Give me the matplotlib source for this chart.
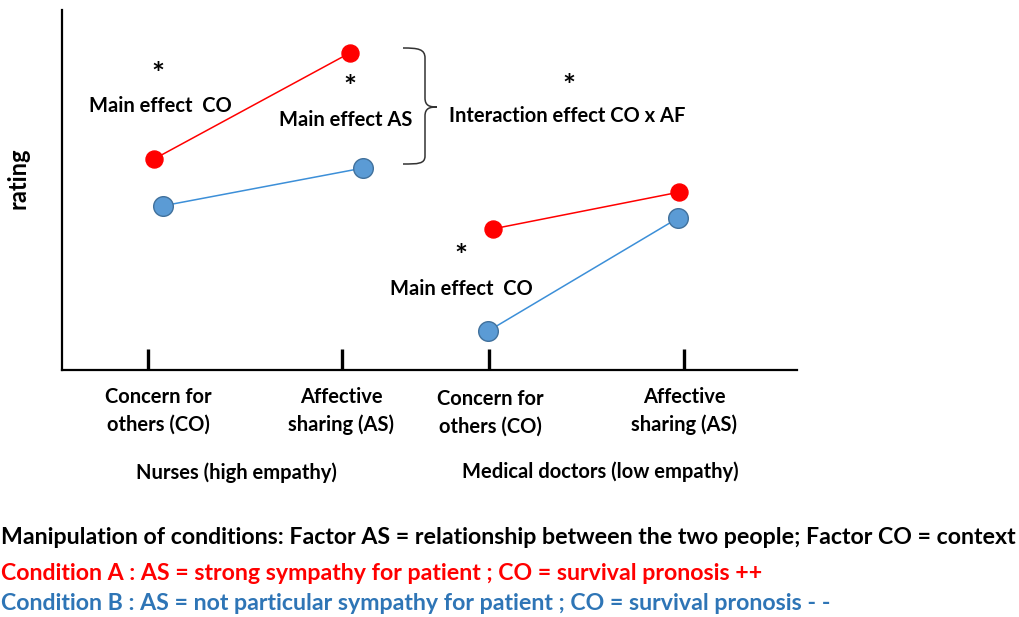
import matplotlib
matplotlib.use("Agg")
import matplotlib.pyplot as plt
from matplotlib.path import Path
from matplotlib.patches import PathPatch

# ---- data ----
conditions = ["Condition A", "Condition B"]
x_nurses = [148, 342]          # category positions (Nurses: CO, AS)
x_doctors = [489, 684]         # category positions (Doctors: CO, AS)
cond_a_x = [154, 350, 493, 679]
cond_a_rating = [5.86, 8.81, 3.92, 4.94]
cond_b_x = [163, 363, 488, 678]
cond_b_rating = [4.56, 5.61, 1.08, 4.22]
tick_labels = ["Concern for\nothers (CO)", "Affective\nsharing (AS)",
               "Concern for\nothers (CO)", "Affective\nsharing (AS)"]
group_labels = ["Nurses (high empathy)", "Medical doctors (low empathy)"]

W, H = 1019, 617
fig = plt.figure(figsize=(W / 100, H / 100), dpi=100)
plt.rcParams['font.family'] = ['Lato', 'DejaVu Sans']
FW = 'bold'
FS = 14.5

def fx(x):
    return x / W

def fy(y):
    return 1 - y / H

ax = fig.add_axes([fx(62), fy(370), (797 - 62) / W, (370 - 10) / H])
ax.set_xlim(62, 797)
ax.set_ylim(0, 10)
for s in ['top', 'right']:
    ax.spines[s].set_visible(False)
for s in ['left', 'bottom']:
    ax.spines[s].set_linewidth(1.6)
ax.set_yticks([])
ax.set_xticks(x_nurses + x_doctors)
ax.set_xticklabels([])
ax.tick_params(axis='x', direction='in', length=15, width=2.4, color='black')

red = '#FF0000'
blue = '#5B9BD5'
blue_edge = '#41719C'
for i in (0, 2):
    ax.plot(cond_a_x[i:i + 2], cond_a_rating[i:i + 2], color=red, lw=1.1, zorder=2)
    ax.plot(cond_b_x[i:i + 2], cond_b_rating[i:i + 2], color='#3C8FD8', lw=1.1, zorder=2)
ax.scatter(cond_a_x, cond_a_rating, s=150, color=red, edgecolor=red, zorder=3)
ax.scatter(cond_b_x, cond_b_rating, s=200, color=blue, edgecolor=blue_edge, lw=1.0, zorder=3)

def t(x, y, s, **kw):
    kw.setdefault('ha', 'center')
    kw.setdefault('va', 'center')
    kw.setdefault('fontsize', FS)
    kw.setdefault('fontweight', FW)
    fig.text(fx(x), fy(y), s, **kw)

# annotations
for (x, y) in [(158, 75), (350, 88), (569, 87), (461, 257)]:
    t(x, y, '*', fontsize=22)
t(160, 106, "Main effect  CO")
t(346, 120, "Main effect AS")
t(449, 116, "Interaction effect CO x AF", ha='left')
t(461, 289, "Main effect  CO")
t(18, 178, "rating", rotation=90, fontsize=17)

# bracket
verts = [(403, 48), (418, 48), (425, 49), (425, 58),
         (425, 98),
         (425, 106), (430, 107), (437, 107),
         (430, 107), (425, 108), (425, 116),
         (425, 156),
         (425, 164), (418, 164), (403, 164)]
codes = [Path.MOVETO, Path.CURVE4, Path.CURVE4, Path.CURVE4,
         Path.LINETO,
         Path.CURVE4, Path.CURVE4, Path.CURVE4,
         Path.CURVE4, Path.CURVE4, Path.CURVE4,
         Path.LINETO,
         Path.CURVE4, Path.CURVE4, Path.CURVE4]
pv = [(fx(x), fy(y)) for x, y in verts]
fig.patches.append(PathPatch(Path(pv, codes), transform=fig.transFigure,
                             fill=False, lw=1.1, edgecolor='#333333'))

# category labels
label_pos = [(158, 411), (341, 411), (490, 413), (684, 411)]
for (x, y), s in zip(label_pos, tick_labels):
    t(x, y, s, linespacing=1.45)
t(236, 473, group_labels[0])
t(600, 472, group_labels[1])

# captions
CS = 16.7
t(1, 537, "Manipulation of conditions: Factor AS = relationship between the two people; Factor CO = context", ha='left', fontsize=CS)
t(1, 574, "Condition A : AS = strong sympathy for patient ; CO = survival pronosis ++", ha='left', color='#FF0000', fontsize=CS)
t(1, 604, "Condition B : AS = not particular sympathy for patient ; CO = survival pronosis - -", ha='left', color='#2E75B6', fontsize=CS)

fig.savefig("out.png", dpi=100)
